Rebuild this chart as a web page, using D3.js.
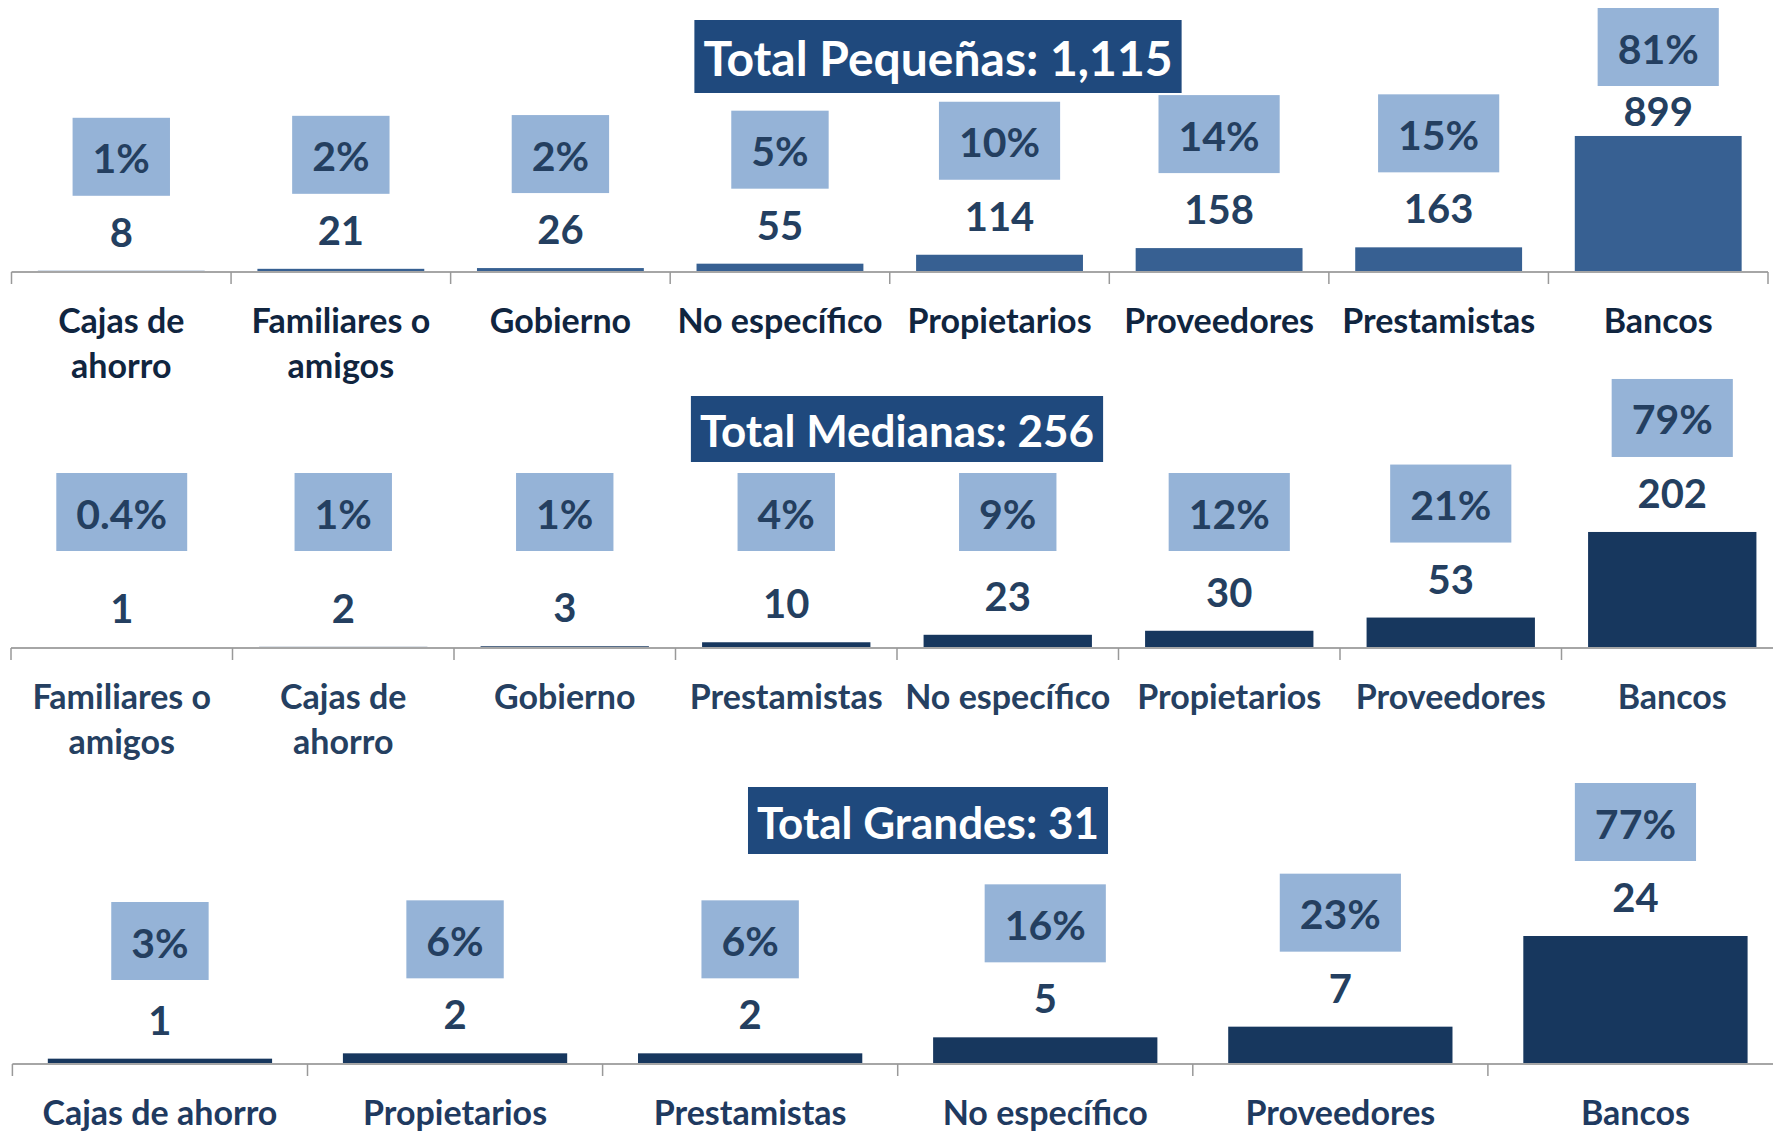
<!DOCTYPE html>
<html>
<head>
<meta charset="utf-8">
<script src="https://cdn.jsdelivr.net/npm/d3@7"></script>
<style>
  body { margin: 0; background: #fff; }
  svg text { font-family: "Lato", "Open Sans", sans-serif; font-weight: 700; }
</style>
</head>
<body>
<div id="chart"></div>
<script>
// Data, one set of arrays per panel
var pequenasCats = ["Cajas de ahorro", "Familiares o amigos", "Gobierno", "No específico",
  "Propietarios", "Proveedores", "Prestamistas", "Bancos"];
var pequenasValues = [8, 21, 26, 55, 114, 158, 163, 899];
var pequenasPcts = ["1%", "2%", "2%", "5%", "10%", "14%", "15%", "81%"];

var medianasCats = ["Familiares o amigos", "Cajas de ahorro", "Gobierno", "Prestamistas",
  "No específico", "Propietarios", "Proveedores", "Bancos"];
var medianasValues = [1, 2, 3, 10, 23, 30, 53, 202];
var medianasPcts = ["0.4%", "1%", "1%", "4%", "9%", "12%", "21%", "79%"];

var grandesCats = ["Cajas de ahorro", "Propietarios", "Prestamistas", "No específico",
  "Proveedores", "Bancos"];
var grandesValues = [1, 2, 2, 5, 7, 24];
var grandesPcts = ["3%", "6%", "6%", "16%", "23%", "77%"];

var titles = ["Total Pequeñas: 1,115", "Total Medianas: 256", "Total Grandes: 31"];

var svgWidth = 1773;
var svgHeight = 1132;

var svg = d3.select("#chart")
  .append("svg")
  .attr("width", svgWidth)
  .attr("height", svgHeight);

// layout of each panel
var panels = [
  { cats: pequenasCats, values: pequenasValues, pcts: pequenasPcts, title: titles[0],
    axisY: 272, x0: 11.5, x1: 1768, yMax: 1000, plotH: 151.3, barColor: "#376092",
    catColor: "#10253f", titleX: 938, titleY: 56.5, titleH: 73, titleSize: 48,
    boxMin: 47, boxMax: 158, wrapW: 214 },
  { cats: medianasCats, values: medianasValues, pcts: medianasPcts, title: titles[1],
    axisY: 648, x0: 11, x1: 1783, yMax: 250, plotH: 143.6, barColor: "#17375e",
    catColor: "#254061", titleX: 897, titleY: 429, titleH: 66, titleSize: 44,
    boxMin: 0, boxMax: 512, wrapW: 214 },
  { cats: grandesCats, values: grandesValues, pcts: grandesPcts, title: titles[2],
    axisY: 1064, x0: 12.4, x1: 1783, yMax: 30, plotH: 160, barColor: "#17375e",
    catColor: "#1f3a60", titleX: 928, titleY: 820.5, titleH: 67, titleSize: 44,
    boxMin: 0, boxMax: 941, wrapW: 280 }
];

var textColor = "#243f60";
var boxColor = "#95b3d7";

panels.forEach(function(p) {
  var g = svg.append("g");

  var xScale = d3.scaleBand()
    .domain(p.cats)
    .range([p.x0, p.x1])
    .paddingInner(0.24)
    .paddingOuter(0.12);

  var yScale = d3.scaleLinear()
    .domain([0, p.yMax])
    .range([p.axisY, p.axisY - p.plotH]);

  var step = xScale.step();

  // bars
  g.selectAll("rect.bar")
    .data(p.values)
    .enter()
    .append("rect")
    .attr("class", "bar")
    .attr("x", (d, i) => xScale(p.cats[i]))
    .attr("y", d => yScale(d))
    .attr("width", xScale.bandwidth())
    .attr("height", d => p.axisY - yScale(d))
    .attr("fill", p.barColor);

  // axis line and ticks at slot boundaries
  g.append("line")
    .attr("x1", p.x0).attr("x2", p.x1)
    .attr("y1", p.axisY).attr("y2", p.axisY)
    .attr("stroke", "#a6a6a6")
    .attr("stroke-width", 2);

  var bounds = d3.range(p.cats.length + 1).map(i => p.x0 + i * step);
  g.selectAll("line.tick")
    .data(bounds)
    .enter()
    .append("line")
    .attr("class", "tick")
    .attr("x1", d => d).attr("x2", d => d)
    .attr("y1", p.axisY).attr("y2", p.axisY + 12)
    .attr("stroke", "#999999")
    .attr("stroke-width", 1.5);

  // category labels, wrapped
  p.cats.forEach(function(c) {
    var cx = xScale(c) + xScale.bandwidth() / 2;
    var t = g.append("text")
      .attr("x", cx)
      .attr("y", p.axisY + 47)
      .attr("text-anchor", "middle")
      .attr("dominant-baseline", "central")
      .attr("font-size", "34px")
      .attr("fill", p.catColor);
    var words = c.split(" ");
    var lines = [];
    var line = [];
    var tspan = t.append("tspan").attr("x", cx);
    words.forEach(function(w) {
      line.push(w);
      tspan.text(line.join(" "));
      if (tspan.node().getComputedTextLength() > p.wrapW && line.length > 1) {
        line.pop();
        lines.push(line.join(" "));
        line = [w];
        tspan.text(w);
      }
    });
    lines.push(line.join(" "));
    t.text(null);
    lines.forEach(function(l, k) {
      t.append("tspan")
        .attr("x", cx)
        .attr("dy", k == 0 ? 0 : 45)
        .text(l);
    });
  });

  // value labels and percentage boxes
  p.values.forEach(function(v, i) {
    var cx = xScale(p.cats[i]) + xScale.bandwidth() / 2;
    var labelY = Math.max(yScale(v) - 39, p.boxMin + 64);
    g.append("text")
      .attr("x", cx)
      .attr("y", labelY)
      .attr("text-anchor", "middle")
      .attr("dominant-baseline", "central")
      .attr("font-size", "40px")
      .attr("fill", textColor)
      .text(d3.format(",")(v));

    var boxY = Math.min(Math.max(labelY - 75, p.boxMin), p.boxMax);
    var pg = g.append("g");
    var box = pg.append("rect");
    var pt = pg.append("text")
      .attr("x", cx)
      .attr("y", boxY + 1)
      .attr("text-anchor", "middle")
      .attr("dominant-baseline", "central")
      .attr("font-size", "41px")
      .attr("fill", textColor)
      .text(p.pcts[i]);
    var tw = pt.node().getComputedTextLength() + 40;
    box.attr("x", cx - tw / 2)
      .attr("y", boxY - 39)
      .attr("width", tw)
      .attr("height", 78)
      .attr("fill", boxColor);
  });

  // title box
  var tg = g.append("g");
  var tbox = tg.append("rect");
  var tt = tg.append("text")
    .attr("x", p.titleX)
    .attr("y", p.titleY + 1)
    .attr("text-anchor", "middle")
    .attr("dominant-baseline", "central")
    .attr("font-size", p.titleSize + "px")
    .attr("fill", "#ffffff")
    .text(p.title);
  var ttw = tt.node().getComputedTextLength() + 18;
  tbox.attr("x", p.titleX - ttw / 2)
    .attr("y", p.titleY - p.titleH / 2)
    .attr("width", ttw)
    .attr("height", p.titleH)
    .attr("fill", "#1f497d");
});
</script>
</body>
</html>
